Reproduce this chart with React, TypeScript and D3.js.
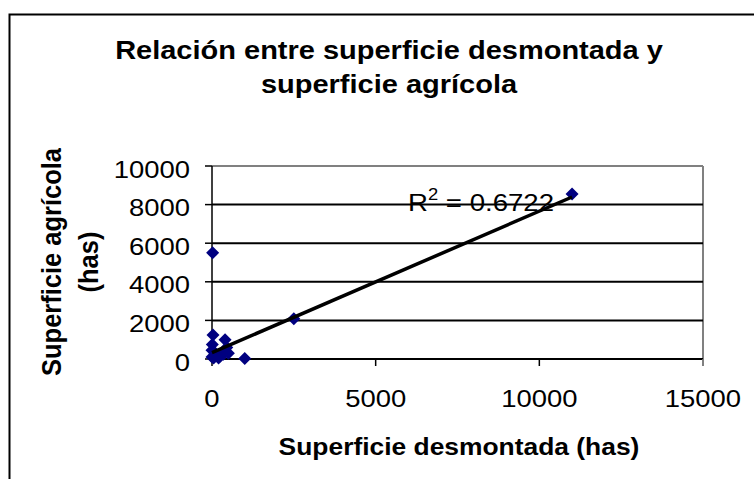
import React from "react";
import * as d3 from "d3";

const desmontada = [11000, 2500, 20, 1000, 30, 400, 10, 0, 100, 350, 500, 50, 200, 450, 0, 250];
const agricola = [8550, 2080, 5500, 30, 1250, 1000, 750, 450, 300, 250, 300, 50, 50, 600, 100, 150];
const xTicks = [0, 5000, 10000, 15000];
const yTicks = [0, 2000, 4000, 6000, 8000, 10000];
const trendSlope = 0.733;
const trendIntercept = 330;
const trendRange = [0, 11000];
const titleLines = ["Relación entre superficie desmontada y", "superficie agrícola"];
const yTitleLines = ["Superficie agrícola", "(has)"];
const xTitle = "Superficie desmontada (has)";
const r2Label = "0.6722";

const W = 754;
const H = 479;
const SX = 1.15;
const FONT = "Arial, 'Liberation Sans', sans-serif";

export default function App() {
  const x = d3.scaleLinear().domain([0, 15000]).range([212, 703]);
  const y = d3.scaleLinear().domain([0, 10000]).range([359, 166]);
  const diamond = "M0,-6.5L6.5,0L0,6.5L-6.5,0Z";
  const trend = d3
    .line<number>()
    .x((d) => x(d))
    .y((d) => y(trendIntercept + trendSlope * d));

  return (
    <svg
      width={W}
      height={H}
      style={{ position: "absolute", left: 0, top: 0, display: "block", background: "#fff" }}
      fontFamily={FONT}
    >
      <rect x={0} y={0} width={W} height={H} fill="#fff" />
      <rect x={9.5} y={14.5} width={W + 20} height={H + 20} fill="none" stroke="#000" strokeWidth={2} />

      {/* title */}
      {titleLines.map((t, i) => (
        <g key={i} transform={`translate(389,${59 + i * 34}) scale(1.16,1)`}>
          <text textAnchor="middle" fontSize={25} fontWeight="bold" fill="#000">
            {t}
          </text>
        </g>
      ))}

      {/* plot border top/right */}
      <line x1={x(0)} x2={x(15000)} y1={y(10000)} y2={y(10000)} stroke="#808080" strokeWidth={2} />
      <line x1={x(15000)} x2={x(15000)} y1={y(10000)} y2={y(0) + 7} stroke="#808080" strokeWidth={2} />

      {/* gridlines */}
      {yTicks
        .filter((t) => t > 0 && t < 10000)
        .map((t) => (
          <line key={t} x1={x(0)} x2={x(15000)} y1={y(t)} y2={y(t)} stroke="#000" strokeWidth={2} />
        ))}

      {/* axes */}
      <line x1={x(0)} x2={x(0)} y1={y(10000)} y2={y(0)} stroke="#000" strokeWidth={1.5} />
      <line x1={x(0)} x2={x(15000)} y1={y(0)} y2={y(0)} stroke="#000" strokeWidth={2} />
      {yTicks.map((t) => (
        <g key={t}>
          <line x1={x(0) - 7} x2={x(0)} y1={y(t)} y2={y(t)} stroke="#000" strokeWidth={1.5} />
          <g transform={`translate(190,${y(t) + 11.5}) scale(1.12,1)`}>
            <text textAnchor="end" fontSize={24.5} fill="#000">
              {t}
            </text>
          </g>
        </g>
      ))}
      {xTicks.map((t) => (
        <g key={t}>
          <line x1={x(t)} x2={x(t)} y1={y(0)} y2={y(0) + 7} stroke={t === 15000 ? "#808080" : "#000"} strokeWidth={1.5} />
          <g transform={`translate(${x(t)},${407}) scale(1.12,1)`}>
            <text textAnchor="middle" fontSize={24.5} fill="#000">
              {t}
            </text>
          </g>
        </g>
      ))}

      {/* axis titles */}
      <g transform={`translate(459,455) scale(1.1,1)`}>
        <text textAnchor="middle" fontSize={24} fontWeight="bold" fill="#000">
          {xTitle}
        </text>
      </g>
      {yTitleLines.map((t, i) => (
        <g key={i} transform={`translate(${61 + i * 37},262) scale(1.05,1) rotate(-90)`}>
          <text textAnchor="middle" fontSize={25.5} fontWeight="bold" fill="#000">
            {t}
          </text>
        </g>
      ))}

      {/* points */}
      {desmontada.map((d, i) => (
        <path key={i} d={diamond} transform={`translate(${x(d)},${y(agricola[i])})`} fill="#000080" />
      ))}

      {/* trend line */}
      <path d={trend(trendRange) || ""} fill="none" stroke="#000" strokeWidth={3.5} />

      {/* R2 label */}
      <g transform={`translate(408,211) scale(${SX},1)`}>
        <text fontSize={24} fill="#000">
          R<tspan dy={-11} fontSize={16}>2</tspan>
          <tspan dy={11}> = {r2Label}</tspan>
        </text>
      </g>
    </svg>
  );
}
